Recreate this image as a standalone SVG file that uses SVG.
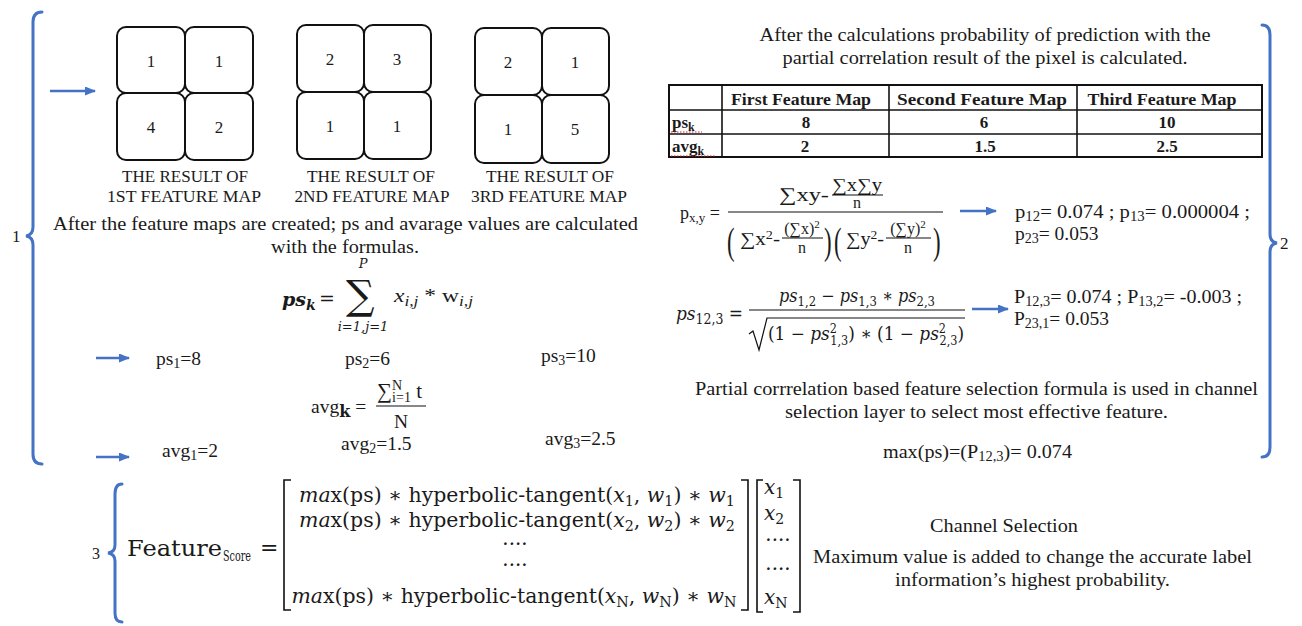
<svg xmlns="http://www.w3.org/2000/svg" width="1302" height="626" viewBox="0 0 1302 626">
<style>
text{font-family:"Liberation Serif","Times New Roman",serif;fill:#1a1a1a}
.t{font-size:19.5px}
.lbl{font-size:17px;text-anchor:middle}
.num{font-size:17px;text-anchor:middle}
.c{text-anchor:middle}
.b{font-weight:bold}
.m{font-family:"DejaVu Serif",serif}
.i{font-style:italic}
.brace{fill:none;stroke:#4472C4;stroke-width:3;stroke-linecap:round}
.arr{stroke:#4472C4;stroke-width:2.5;fill:none}
.cell{fill:#fff;stroke:#111;stroke-width:2}
.ln{stroke:#111;stroke-width:1.2;fill:none}
.tb{stroke:#111;stroke-width:1.6;fill:none}
.br{stroke:#111;stroke-width:1.6;fill:none}
</style>
<defs>
<marker id="ah" markerWidth="11" markerHeight="9" refX="10" refY="4.5" orient="auto" markerUnits="userSpaceOnUse"><path d="M0,0 L11,4.5 L0,9 Z" fill="#4472C4"/></marker>
</defs>
<rect width="1302" height="626" fill="#fff"/>

<g id="braces">
<path class="brace" d="M42,12 Q33,12 33,22 L33,227 Q33,235 26,236 Q33,237 33,245 L33,454 Q33,464 42,464"/>
<text x="12" y="242" font-size="17">1</text>
<path class="brace" d="M1262,25 Q1270,25 1270,35 L1270,234 Q1270,242 1277,243 Q1270,244 1270,252 L1270,447 Q1270,457 1262,457"/>
<text x="1280" y="249" font-size="17">2</text>
<path class="brace" d="M122,484 Q115,484 115,494 L115,545 Q115,552 108,553 Q115,554 115,561 L115,613 Q115,622 122,622"/>
<text x="92" y="559" font-size="16">3</text>
</g>

<g id="connectors">
<line class="arr" x1="50" y1="91" x2="95" y2="91" marker-end="url(#ah)"/>
<line class="arr" x1="96" y1="358" x2="129" y2="358" marker-end="url(#ah)"/>
<line class="arr" x1="96" y1="457" x2="129" y2="457" marker-end="url(#ah)"/>
<line class="arr" x1="960" y1="211" x2="996" y2="211" marker-end="url(#ah)"/>
<line class="arr" x1="972" y1="309" x2="1008" y2="309" marker-end="url(#ah)"/>
</g>

<g id="map1">
<rect class="cell" x="117" y="27" width="68" height="66" rx="9"/>
<rect class="cell" x="185" y="27" width="68" height="66" rx="9"/>
<rect class="cell" x="117" y="93" width="68" height="67" rx="9"/>
<rect class="cell" x="185" y="93" width="68" height="67" rx="9"/>
<text class="num" x="151" y="67">1</text><text class="num" x="219" y="67">1</text>
<text class="num" x="151" y="133">4</text><text class="num" x="219" y="133">2</text>
<text class="lbl" x="185" y="182" textLength="126" lengthAdjust="spacingAndGlyphs">THE RESULT OF</text>
<text class="lbl" x="184" y="202" textLength="154" lengthAdjust="spacingAndGlyphs">1ST FEATURE MAP</text>
</g>

<g id="map2">
<rect class="cell" x="297" y="25" width="67" height="67" rx="9"/>
<rect class="cell" x="364" y="25" width="67" height="67" rx="9"/>
<rect class="cell" x="297" y="92" width="67" height="67" rx="9"/>
<rect class="cell" x="364" y="92" width="67" height="67" rx="9"/>
<text class="num" x="330" y="65">2</text><text class="num" x="397" y="65">3</text>
<text class="num" x="330" y="132">1</text><text class="num" x="397" y="132">1</text>
<text class="lbl" x="371" y="182" textLength="128" lengthAdjust="spacingAndGlyphs">THE RESULT OF</text>
<text class="lbl" x="372" y="202" textLength="155" lengthAdjust="spacingAndGlyphs">2ND FEATURE MAP</text>
</g>

<g id="map3">
<rect class="cell" x="475" y="28" width="67" height="67" rx="9"/>
<rect class="cell" x="542" y="28" width="67" height="67" rx="9"/>
<rect class="cell" x="475" y="95" width="67" height="68" rx="9"/>
<rect class="cell" x="542" y="95" width="67" height="68" rx="9"/>
<text class="num" x="508" y="68">2</text><text class="num" x="575" y="68">1</text>
<text class="num" x="508" y="135">1</text><text class="num" x="575" y="135">5</text>
<text class="lbl" x="550" y="182" textLength="128" lengthAdjust="spacingAndGlyphs">THE RESULT OF</text>
<text class="lbl" x="549" y="202" textLength="156" lengthAdjust="spacingAndGlyphs">3RD FEATURE MAP</text>
</g>

<g id="step1-text">
<text class="t" x="53" y="230" textLength="585" lengthAdjust="spacingAndGlyphs">After the feature maps are created; ps and avarage values are calculated</text>
<text class="t c" x="345" y="253" textLength="148" lengthAdjust="spacingAndGlyphs">with the formulas.</text>
</g>

<g id="psk-formula">
<text class="m i" x="282" y="306" font-size="19" font-weight="600">ps<tspan font-size="14" dy="4">k</tspan></text>
<text class="m" x="319" y="305" font-size="19">=</text>
<text class="m" x="346" y="309" font-size="40">∑</text>
<text class="m i c" x="363" y="268" font-size="13">P</text>
<text class="m i c" x="363" y="331" font-size="13">i=1,j=1</text>
<text x="394" y="302" font-size="19" textLength="79" lengthAdjust="spacingAndGlyphs"><tspan class="i">x</tspan><tspan class="i" font-size="14" dy="4">i,j</tspan><tspan dy="-4"> * w</tspan><tspan class="i" font-size="14" dy="4">i,j</tspan></text>
</g>

<g id="ps-values">
<text class="t" x="156" y="365">ps<tspan font-size="14" dy="3">1</tspan><tspan dy="-3">=8</tspan></text>
<text class="t" x="345" y="365">ps<tspan font-size="14" dy="3">2</tspan><tspan dy="-3">=6</tspan></text>
<text class="t" x="541" y="362">ps<tspan font-size="14" dy="3">3</tspan><tspan dy="-3">=10</tspan></text>
</g>

<g id="avg-formula">
<text class="t" x="311" y="413" font-size="20">avg<tspan class="b m" font-size="16" dy="4">k</tspan><tspan dy="-4"> =</tspan></text>
<text x="377" y="398" font-size="21">∑<tspan font-size="14" dy="-8">N</tspan><tspan font-size="14" dx="-10" dy="12">i=1</tspan><tspan dy="-4"> t</tspan></text>
<line class="ln" x1="376" y1="406" x2="426" y2="406"/>
<text class="t c" x="401" y="428">N</text>
</g>

<g id="avg-values">
<text class="t" x="162" y="457">avg<tspan font-size="14" dy="3">1</tspan><tspan dy="-3">=2</tspan></text>
<text class="t" x="341" y="450">avg<tspan font-size="14" dy="3">2</tspan><tspan dy="-3">=1.5</tspan></text>
<text class="t" x="545" y="445">avg<tspan font-size="14" dy="3">3</tspan><tspan dy="-3">=2.5</tspan></text>
</g>

<g id="step2-title">
<text class="t c" x="985" y="41" textLength="451" lengthAdjust="spacingAndGlyphs">After the calculations probability of prediction with the</text>
<text class="t c" x="985" y="64" textLength="405" lengthAdjust="spacingAndGlyphs">partial correlation result of the pixel is calculated.</text>
</g>

<g id="table">
<rect x="669" y="85" width="593" height="72" fill="none" stroke="#111" stroke-width="2"/>
<line class="tb" x1="669" y1="110" x2="1262" y2="110"/>
<line class="tb" x1="669" y1="134" x2="1262" y2="134"/>
<line class="tb" x1="722" y1="85" x2="722" y2="157"/>
<line class="tb" x1="889" y1="85" x2="889" y2="157"/>
<line class="tb" x1="1077" y1="85" x2="1077" y2="157"/>
<text class="b c" x="801" y="105" font-size="17" textLength="140" lengthAdjust="spacingAndGlyphs">First Feature Map</text>
<text class="b c" x="982" y="105" font-size="17" textLength="170" lengthAdjust="spacingAndGlyphs">Second Feature Map</text>
<text class="b c" x="1162" y="105" font-size="17" textLength="149" lengthAdjust="spacingAndGlyphs">Third Feature Map</text>
<text class="b" x="672" y="128" font-size="17">ps<tspan font-size="12" dy="3">k</tspan></text>
<text class="b" x="672" y="152" font-size="17">avg<tspan font-size="12" dy="3">k</tspan></text>
<line x1="671" y1="132" x2="702" y2="132" stroke="#d22" stroke-width="1.2" stroke-dasharray="1.5 1.5"/>
<line x1="671" y1="156" x2="715" y2="156" stroke="#d22" stroke-width="1.2" stroke-dasharray="1.5 1.5"/>
<text class="b c" x="806" y="128" font-size="17">8</text>
<text class="b c" x="984" y="128" font-size="17">6</text>
<text class="b c" x="1167" y="128" font-size="17">10</text>
<text class="b c" x="805" y="152" font-size="17">2</text>
<text class="b c" x="985" y="152" font-size="17">1.5</text>
<text class="b c" x="1167" y="152" font-size="17">2.5</text>
</g>

<g id="pxy-formula">
<text x="680" y="219" font-size="18">p<tspan font-size="13" dy="3">x,y</tspan><tspan dy="-3"> =</tspan></text>
<text x="779" y="201" font-size="19" textLength="50" lengthAdjust="spacingAndGlyphs">∑xy-</text>
<text class="c" x="857" y="191" font-size="18" textLength="50" lengthAdjust="spacingAndGlyphs">∑x∑y</text>
<line class="ln" x1="832" y1="195" x2="883" y2="195"/>
<text class="c" x="857" y="208" font-size="16">n</text>
<line class="ln" x1="728" y1="212" x2="943" y2="212"/>
<text x="727" y="254" font-size="38" transform="translate(727 254) scale(0.6 1) translate(-727 -254)">(</text>
<text x="740" y="245" font-size="18" textLength="40" lengthAdjust="spacingAndGlyphs">∑x<tspan font-size="12" dy="-6">2</tspan><tspan dy="6">-</tspan></text>
<text class="c" x="802" y="234" font-size="16">(∑x)<tspan font-size="11" dy="-6">2</tspan></text>
<line class="ln" x1="782" y1="238" x2="823" y2="238"/>
<text class="c" x="802" y="253" font-size="16">n</text>
<text x="824" y="254" font-size="38" transform="translate(824 254) scale(0.6 1) translate(-824 -254)">)</text>
<text x="834" y="254" font-size="38" transform="translate(834 254) scale(0.6 1) translate(-834 -254)">(</text>
<text x="846" y="245" font-size="18" textLength="38" lengthAdjust="spacingAndGlyphs">∑y<tspan font-size="12" dy="-6">2</tspan><tspan dy="6">-</tspan></text>
<text class="c" x="908" y="234" font-size="16">(∑y)<tspan font-size="11" dy="-6">2</tspan></text>
<line class="ln" x1="886" y1="238" x2="931" y2="238"/>
<text class="c" x="908" y="253" font-size="16">n</text>
<text x="933" y="254" font-size="38" transform="translate(933 254) scale(0.6 1) translate(-933 -254)">)</text>
</g>

<g id="pxy-result">
<text class="t" x="1015" y="218" textLength="235" lengthAdjust="spacingAndGlyphs">p<tspan font-size="14" dy="3">12</tspan><tspan dy="-3">= 0.074 ; p</tspan><tspan font-size="14" dy="3">13</tspan><tspan dy="-3">= 0.000004 ;</tspan></text>
<text class="t" x="1015" y="240">p<tspan font-size="14" dy="3">23</tspan><tspan dy="-3">= 0.053</tspan></text>
</g>

<g id="ps123-formula">
<text class="m" x="676" y="320" font-size="19" textLength="67" lengthAdjust="spacingAndGlyphs"><tspan class="i">ps</tspan><tspan font-size="14" dy="4">12,3</tspan><tspan dy="-4"> =</tspan></text>
<text class="m c" x="857" y="302" font-size="18" textLength="156" lengthAdjust="spacingAndGlyphs"><tspan class="i">ps</tspan><tspan font-size="13" dy="4">1,2</tspan><tspan dy="-4"> − </tspan><tspan class="i">ps</tspan><tspan font-size="13" dy="4">1,3</tspan><tspan dy="-4"> ∗ </tspan><tspan class="i">ps</tspan><tspan font-size="13" dy="4">2,3</tspan></text>
<line class="ln" x1="749" y1="310" x2="965" y2="310"/>
<path class="ln" d="M749,334 L753,331 L759,350 L767,318 L965,318"/>
<text class="m" x="768" y="340" font-size="18" textLength="196" lengthAdjust="spacingAndGlyphs">(1 − <tspan class="i">ps</tspan><tspan font-size="12" dy="-7">2</tspan><tspan font-size="12" dx="-7" dy="12">1,3</tspan><tspan dy="-5">) ∗ (1 − </tspan><tspan class="i">ps</tspan><tspan font-size="12" dy="-7">2</tspan><tspan font-size="12" dx="-7" dy="12">2,3</tspan><tspan dy="-5">)</tspan></text>
</g>

<g id="ps123-result">
<text class="t" x="1014" y="303" textLength="228" lengthAdjust="spacingAndGlyphs">P<tspan font-size="14" dy="3">12,3</tspan><tspan dy="-3">= 0.074 ; P</tspan><tspan font-size="14" dy="3">13,2</tspan><tspan dy="-3">= -0.003 ;</tspan></text>
<text class="t" x="1014" y="325">P<tspan font-size="14" dy="3">23,1</tspan><tspan dy="-3">= 0.053</tspan></text>
</g>

<g id="step2-text">
<text class="t" x="695" y="395" textLength="563" lengthAdjust="spacingAndGlyphs">Partial corrrelation based feature selection formula is used in channel</text>
<text class="t" x="785" y="418" textLength="383" lengthAdjust="spacingAndGlyphs">selection layer to select most effective feature.</text>
<text class="t" x="883" y="458" textLength="189" lengthAdjust="spacingAndGlyphs">max(ps)=(P<tspan font-size="14" dy="3">12,3</tspan><tspan dy="-3">)= 0.074</tspan></text>
</g>

<g id="feature-score">
<text class="m" x="127" y="556" font-size="22" textLength="95" lengthAdjust="spacingAndGlyphs">Feature</text>
<text class="m" x="223" y="561" font-size="15" textLength="28" lengthAdjust="spacingAndGlyphs">Score</text>
<text class="m" x="260" y="555" font-size="22">=</text>
<path class="br" d="M291,480 L284,480 L284,610 L291,610"/>
<path class="br" d="M741,480 L748,480 L748,610 L741,610"/>
<text class="m c" x="517" y="502" font-size="20" textLength="436" lengthAdjust="spacingAndGlyphs"><tspan class="i">ma</tspan>x(ps) ∗ hyperbolic-tangent(<tspan class="i">x</tspan><tspan font-size="14" dy="4">1</tspan><tspan dy="-4">, </tspan><tspan class="i">w</tspan><tspan font-size="14" dy="4">1</tspan><tspan dy="-4">) ∗ </tspan><tspan class="i">w</tspan><tspan font-size="14" dy="4">1</tspan></text>
<text class="m c" x="517" y="527" font-size="20" textLength="436" lengthAdjust="spacingAndGlyphs"><tspan class="i">ma</tspan>x(ps) ∗ hyperbolic-tangent(<tspan class="i">x</tspan><tspan font-size="14" dy="4">2</tspan><tspan dy="-4">, </tspan><tspan class="i">w</tspan><tspan font-size="14" dy="4">2</tspan><tspan dy="-4">) ∗ </tspan><tspan class="i">w</tspan><tspan font-size="14" dy="4">2</tspan></text>
<text class="m c" x="515" y="551" font-size="20">····</text>
<text class="m c" x="515" y="572" font-size="20">····</text>
<text class="m c" x="514" y="603" font-size="20" textLength="445" lengthAdjust="spacingAndGlyphs"><tspan class="i">ma</tspan>x(ps) ∗ hyperbolic-tangent(<tspan class="i">x</tspan><tspan font-size="14" dy="4">N</tspan><tspan dy="-4">, </tspan><tspan class="i">w</tspan><tspan font-size="14" dy="4">N</tspan><tspan dy="-4">) ∗ </tspan><tspan class="i">w</tspan><tspan font-size="14" dy="4">N</tspan></text>
<path class="br" d="M763,480 L757,480 L757,612 L763,612"/>
<path class="br" d="M793,480 L800,480 L800,612 L793,612"/>
<text class="m" x="764" y="494" font-size="20"><tspan class="i">x</tspan><tspan font-size="14" dy="4">1</tspan></text>
<text class="m" x="764" y="520" font-size="20"><tspan class="i">x</tspan><tspan font-size="14" dy="4">2</tspan></text>
<text class="m c" x="778" y="547" font-size="20">····</text>
<text class="m c" x="778" y="576" font-size="20">····</text>
<text class="m" x="764" y="604" font-size="20"><tspan class="i">x</tspan><tspan font-size="14" dy="4">N</tspan></text>
</g>

<g id="step3-text">
<text class="t" x="930" y="532" textLength="148" lengthAdjust="spacingAndGlyphs">Channel Selection</text>
<text class="t" x="813" y="563" textLength="439" lengthAdjust="spacingAndGlyphs">Maximum value is added to change the accurate label</text>
<text class="t" x="895" y="586" textLength="275" lengthAdjust="spacingAndGlyphs">information’s highest probability.</text>
</g>
</svg>
